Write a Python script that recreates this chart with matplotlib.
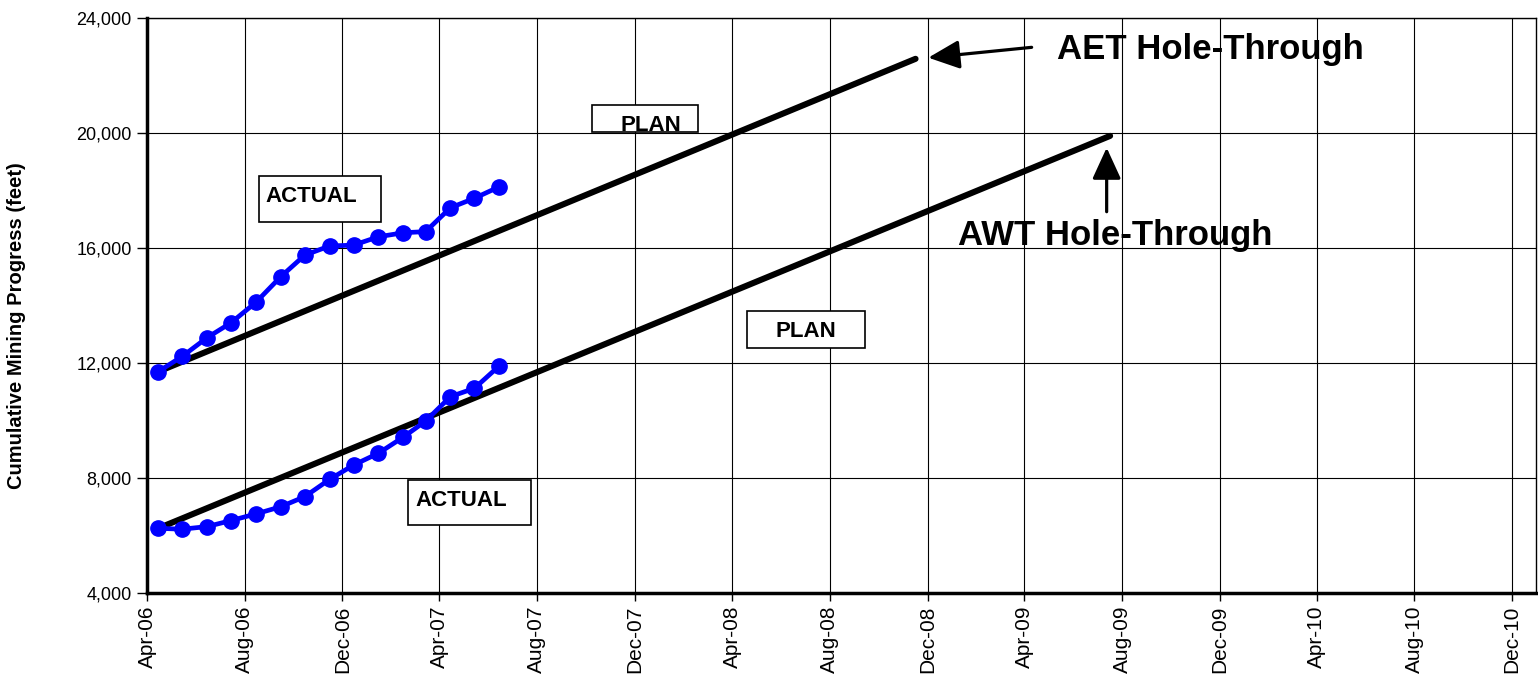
import matplotlib
matplotlib.use("Agg")
import matplotlib.pyplot as plt
import matplotlib.dates as mdates
from matplotlib.patches import Rectangle, FancyArrowPatch
import pandas as pd

plt.rcParams['font.family'] = ['Liberation Sans', 'DejaVu Sans']

# ---- data ----
actual_dates = pd.date_range("2006-04-01", periods=15, freq="MS") + pd.Timedelta(days=14)
aet_actual = [11700, 12230, 12880, 13400, 14110, 15000, 15750, 16070, 16100,
              16390, 16530, 16570, 17400, 17730, 18130]
awt_actual = [6250, 6220, 6310, 6520, 6750, 7000, 7350, 7950, 8450,
              8860, 9420, 9980, 10830, 11120, 11900]

aet_plan_dates = pd.to_datetime(["2006-04-15", "2008-11-16"])
aet_plan = [11700, 22580]
awt_plan_dates = pd.to_datetime(["2006-04-15", "2009-07-17"])
awt_plan = [6250, 19900]

y_ticks = [4000, 8000, 12000, 16000, 20000, 24000]
x_start, x_end = pd.Timestamp("2006-04-01"), pd.Timestamp("2010-12-31")

# ---- figure ----
fig = plt.figure(figsize=(15.38, 6.83), dpi=100)
ax = fig.add_axes([147/1538, 1-593/683, (1536-147)/1538, (593-18)/683])

ax.plot(aet_plan_dates, aet_plan, color='black', lw=4.4, solid_capstyle='round', zorder=3)
ax.plot(awt_plan_dates, awt_plan, color='black', lw=4.4, solid_capstyle='round', zorder=3)
ax.plot(actual_dates, aet_actual, color='#0000FF', lw=3.4, marker='o', ms=11, zorder=4)
ax.plot(actual_dates, awt_actual, color='#0000FF', lw=3.4, marker='o', ms=11, zorder=4)

ax.set_xlim(x_start, x_end)
ax.set_ylim(4000, 24000)
ax.set_yticks(y_ticks)
ax.yaxis.set_major_formatter(matplotlib.ticker.FuncFormatter(lambda v, p: f"{v:,.0f}"))
ax.xaxis.set_major_locator(mdates.MonthLocator(bymonth=[4, 8, 12], bymonthday=1))
ax.xaxis.set_major_formatter(mdates.DateFormatter('%b-%y'))
for lab in ax.get_xticklabels():
    lab.set_rotation(90)
ax.tick_params(axis='y', labelsize=13, length=7, width=1, direction='out', pad=4)
ax.tick_params(axis='x', labelsize=15, length=6, width=1, direction='out', pad=3)

ax.grid(True, color='black', lw=0.8, zorder=1)
ax.set_axisbelow(True)
for s in ['left', 'bottom']:
    ax.spines[s].set_linewidth(2.5)
for s in ['top', 'right']:
    ax.spines[s].set_linewidth(1.0)

fig.text(17/1538, 1-326/683, 'Cumulative Mining Progress (feet)', rotation=90,
         ha='center', va='center', fontsize=14.5, fontweight='bold')

# ---- labelled boxes (axes fraction coordinates) ----
boxes = [
    ((0.0806, 0.6457), 0.0879, 0.0800, (0.0850, 0.6807), 'ACTUAL'),
    ((0.1881, 0.1183), 0.0881, 0.0782, (0.1929, 0.1513), 'ACTUAL'),
    ((0.3202, 0.8012), 0.0767, 0.0475, (0.3406, 0.8035), 'PLAN'),
    ((0.4317, 0.4256), 0.0852, 0.0654, (0.4526, 0.4447), 'PLAN'),
]
for (bx, by), bw, bh, (tx, ty), txt in boxes:
    ax.add_patch(Rectangle((bx, by), bw, bh, transform=ax.transAxes, facecolor='white',
                           edgecolor='black', lw=1.2, zorder=5))
    ax.text(tx, ty, txt, transform=ax.transAxes, ha='left', va='baseline',
            fontsize=16, fontweight='bold', zorder=6)

ax.text(0.6549, 0.9281, 'AET Hole-Through', transform=ax.transAxes, ha='left',
        va='baseline', fontsize=25, fontweight='bold', zorder=6)
ax.text(0.5841, 0.6052, 'AWT Hole-Through', transform=ax.transAxes, ha='left',
        va='baseline', fontsize=25, fontweight='bold', zorder=6)

arrow_kw = dict(arrowstyle='-|>,head_length=1.2,head_width=0.55', mutation_scale=16,
                color='black', lw=2.3, shrinkA=0, shrinkB=0, transform=ax.transAxes, zorder=6)
ax.add_patch(FancyArrowPatch((0.6369, 0.9490), (0.5625, 0.9310), **arrow_kw))
ax.add_patch(FancyArrowPatch((0.6909, 0.6631), (0.6909, 0.7744), **arrow_kw))

fig.savefig('out.png', dpi=100)
